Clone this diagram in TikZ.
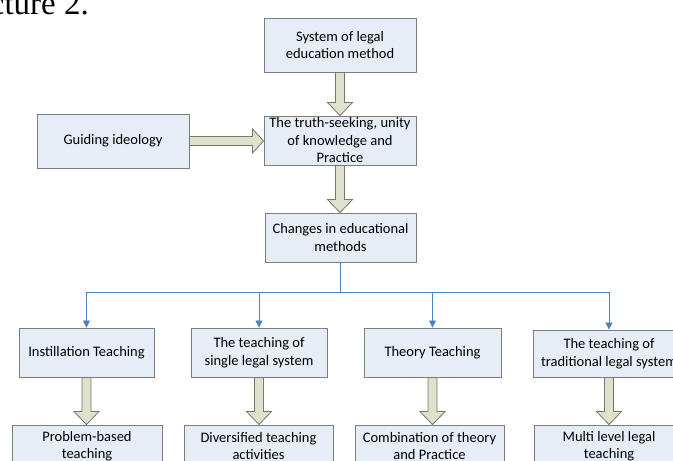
\documentclass[tikz,border=0pt]{standalone}
\usepackage{fontspec}
\setmainfont{Carlito}
\newfontfamily\capfont{Liberation Serif}
\usepackage{xcolor}
\usetikzlibrary{positioning,calc,arrows.meta}

\definecolor{boxblue}{RGB}{231,237,246}
\definecolor{boxline}{RGB}{125,125,125}
\definecolor{fatfill}{RGB}{222,225,203}
\definecolor{fatline}{RGB}{118,120,104}
\definecolor{linkblue}{RGB}{79,129,189}

\tikzset{
  box/.style={draw=boxline, fill=boxblue, line width=0.9pt, align=center, inner sep=0pt,
              minimum height=49pt, font=\fontsize{14.5}{17.5}\selectfont},
  fat/.style={draw=fatline, fill=fatfill, line width=0.8pt},
  link/.style={draw=linkblue, line width=0.8pt, -{Triangle[length=7pt,width=7pt]}},
}

% fat arrows between boxes
\newcommand{\fatdown}[2]{%
  \path[fat] let \p1=(#1.south), \p2=(#2.north) in
    (\x1-4.5pt,\y1) -- (\x1-4.5pt,\y2+13pt) -- (\x1-12.5pt,\y2+13pt) -- (\x1,\y2)
    -- (\x1+12.5pt,\y2+13pt) -- (\x1+4.5pt,\y2+13pt) -- (\x1+4.5pt,\y1) -- cycle;}
\newcommand{\fatright}[2]{%
  \path[fat] let \p1=(#1.east), \p2=(#2.west) in
    (\x1,\y1+4.5pt) -- (\x2-11pt,\y1+4.5pt) -- (\x2-11pt,\y1+12pt) -- (\x2,\y1)
    -- (\x2-11pt,\y1-12pt) -- (\x2-11pt,\y1-4.5pt) -- (\x1,\y1-4.5pt) -- cycle;}

\begin{document}
\begin{tikzpicture}[x=1pt, y=-1pt]
    \useasboundingbox (0,0) rectangle (673,461);
    \clip (0,0) rectangle (673,461);

    % caption fragment
    \node[anchor=base east, inner sep=0pt, font=\capfont\fontsize{33}{34}\selectfont] (cap) at (89,14) {cture 2.};

    % upper part
    \node[box, minimum width=152pt, minimum height=54pt] (sys) at (340,45) {System of legal\\education method};
    \node[box, minimum width=152pt] (truth) at (340,140.5) {The truth-seeking, unity\\of knowledge and\\Practice};
    \node[box, minimum width=152pt, minimum height=54pt] (guide) at (113,141) {Guiding ideology};
    \node[box, minimum width=151pt] (chg) at (340.5,237.5) {Changes in educational\\methods};

    % teaching methods
    \node[box, minimum width=135pt] (t1) at (86.5,352.5) {Instillation Teaching};
    \node[box, minimum width=136pt] (t2) at (259,352.5) {The teaching of\\single legal system};
    \node[box, minimum width=137pt] (t3) at (432.5,352.5) {Theory Teaching};
    \node[box, minimum width=152pt, minimum height=47pt] (t4) at (609,353.5) {The teaching of\\traditional legal system};

    % results
    \node[box, minimum width=150pt, minimum height=42pt] (b1) at (87,446) {Problem-based\\teaching};
    \node[box, minimum width=149pt, minimum height=42pt] (b2) at (258.5,446) {Diversified teaching\\activities};
    \node[box, minimum width=149pt, minimum height=42pt] (b3) at (429.5,446) {Combination of theory\\and Practice};
    \node[box, minimum width=150pt, minimum height=42pt] (b4) at (609,446) {Multi level legal\\teaching};

    % fat arrows
    \fatdown{sys}{truth}
    \fatright{guide}{truth}
    \fatdown{truth}{chg}
    \fatdown{t1}{b1}
    \fatdown{t2}{b2}
    \fatdown{t3}{b3}
    \fatdown{t4}{b4}

    % branches
    \coordinate (split) at (chg.south |- 0,292);
    \draw[link] (chg.south) -- (split) -| (t1.north);
    \draw[link] (split) -| (t2.north);
    \draw[link] (split) -| (t3.north);
    \draw[link] (split) -| (t4.north);
\end{tikzpicture}
\end{document}
